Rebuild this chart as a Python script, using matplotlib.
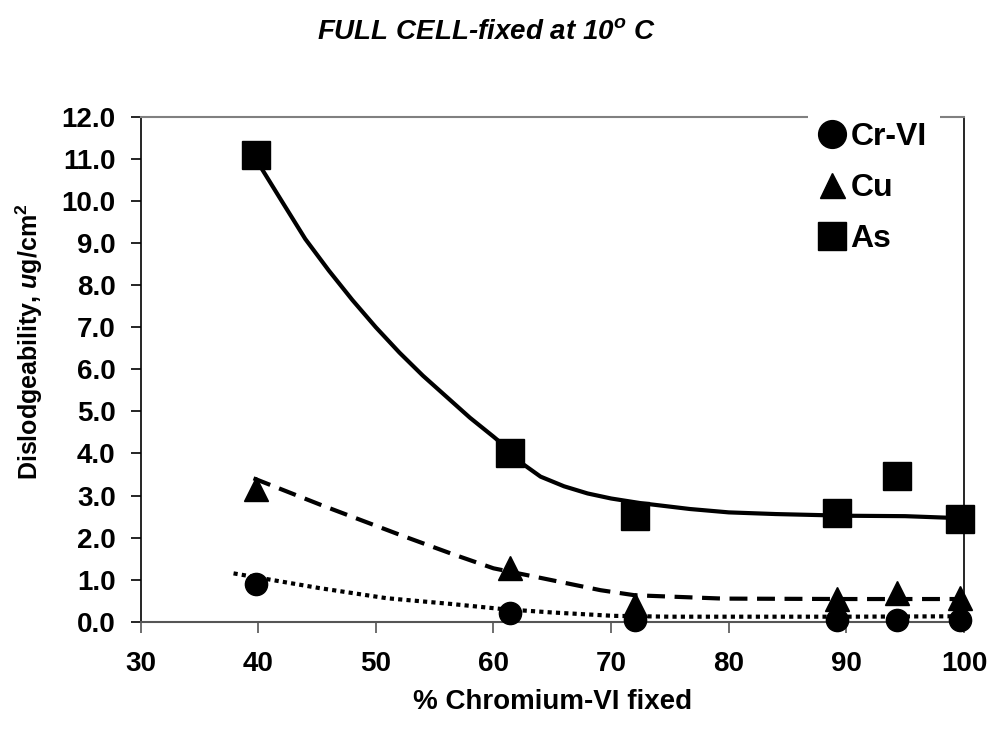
import matplotlib
matplotlib.use('Agg')
import matplotlib.pyplot as plt
from matplotlib.lines import Line2D

# measured points (% Cr-VI fixed vs dislodgeability, ug/cm2)
x_fixed = [39.8, 61.4, 72.0, 89.2, 94.3, 99.7]
cr_vi = [0.90, 0.20, 0.04, 0.03, 0.04, 0.03]
cu = [3.15, 1.27, 0.40, 0.55, 0.68, 0.56]
arsenic = [11.1, 4.0, 2.52, 2.59, 3.47, 2.45]

# smoothed trend lines
as_curve_x = [39.9, 40.3, 42.0, 44.0, 46.0, 48.0, 50.0, 52.0, 54.0, 56.0, 58.0, 60.0,
              61.5, 62.5, 64.0, 66.0, 68.0, 70.0, 72.5, 76.7, 80.0, 84.0, 90.0, 95.0, 99.9]
as_curve_y = [11.15, 10.77, 10.0, 9.1, 8.35, 7.65, 7.0, 6.4, 5.85, 5.35, 4.85, 4.4,
              4.05, 3.75, 3.45, 3.22, 3.05, 2.93, 2.82, 2.68, 2.60, 2.56, 2.52, 2.51, 2.46]
cu_curve_x = [39.6, 45.3, 52.1, 56.6, 60.0, 63.7, 69.1, 72.0, 79.5, 90.0, 100.0]
cu_curve_y = [3.41, 2.78, 2.06, 1.60, 1.27, 1.06, 0.75, 0.63, 0.55, 0.54, 0.54]
cr_curve_x = [37.9, 45.2, 50.9, 56.5, 60.8, 65.0, 70.2, 75.0, 80.0, 90.0, 100.0]
cr_curve_y = [1.15, 0.80, 0.56, 0.42, 0.30, 0.22, 0.14, 0.12, 0.12, 0.12, 0.13]

x_ticks = [30, 40, 50, 60, 70, 80, 90, 100]
y_ticks = list(range(0, 13))

plt.rcParams['font.family'] = ['Liberation Sans', 'DejaVu Sans']
plt.rcParams['font.weight'] = 'bold'
plt.rcParams['mathtext.fontset'] = 'custom'
plt.rcParams['mathtext.rm'] = 'Liberation Sans:bold'
plt.rcParams['mathtext.bf'] = 'Liberation Sans:bold'
plt.rcParams['mathtext.it'] = 'Liberation Sans:bold:italic'

fig = plt.figure(figsize=(9.93, 7.35), dpi=100)
ax = fig.add_axes([0.1416, 0.1541, 0.8292, 0.6867])

# trend lines
ax.plot(as_curve_x, as_curve_y, color='black', lw=3, solid_capstyle='butt',
        solid_joinstyle='round', zorder=2)
ax.plot(cu_curve_x, cu_curve_y, color='black', lw=3, linestyle=(0, (4.3, 2.3)),
        dash_capstyle='butt', zorder=2)
ax.plot(cr_curve_x, cr_curve_y, color='black', lw=3, linestyle=(0, (1, 1)),
        dash_capstyle='butt', zorder=2)

# markers
ax.plot(x_fixed, cr_vi, 'o', color='black', ms=16, ls='none', clip_on=False, zorder=3)
ax.plot(x_fixed, cu, '^', color='black', ms=17, ls='none', clip_on=False, zorder=3)
ax.plot(x_fixed, arsenic, 's', color='black', ms=20, ls='none', clip_on=False, zorder=3)

ax.set_xlim(30, 100)
ax.set_ylim(0, 12)
ax.set_xticks(x_ticks)
ax.set_yticks(y_ticks)
ax.set_yticklabels([f'{v:.1f}' for v in y_ticks])

ax.spines['top'].set_color('#808080')
ax.spines['top'].set_linewidth(1.5)
ax.spines['right'].set_color('black')
ax.spines['right'].set_linewidth(1.2)
ax.spines['left'].set_color('black')
ax.spines['left'].set_linewidth(1.2)
ax.spines['bottom'].set_color('#555555')
ax.spines['bottom'].set_linewidth(1.5)

ax.tick_params(axis='y', direction='out', length=7, width=1.2, color='black',
               labelsize=20, pad=11)
ax.tick_params(axis='x', direction='out', length=8, width=1.2, color='#555555',
               labelsize=20, pad=13)

ax.set_xlabel('% Chromium-VI fixed', fontsize=20, fontweight='bold', labelpad=9)
ax.set_ylabel('Dislodgeability, $u$g/cm$^2$', fontsize=18, fontweight='bold')
ax.yaxis.set_label_coords(-0.116, 0.555)

fig.text(0.49, 0.957, 'FULL CELL-fixed at 10$^o$ C', ha='center', va='center',
         fontsize=20, fontweight='bold', fontstyle='italic')

handles = [
    Line2D([], [], marker='o', color='black', ls='none', ms=20),
    Line2D([], [], marker='^', color='black', ls='none', ms=18),
    Line2D([], [], marker='s', color='black', ls='none', ms=20),
]
leg = ax.legend(handles, ['Cr-VI', 'Cu', 'As'], loc='upper left',
                bbox_to_anchor=(0.81, 1.016), borderaxespad=0, frameon=True,
                fancybox=False, edgecolor='none', facecolor='white', framealpha=1,
                prop={'size': 23, 'weight': 'bold'}, handlelength=0.7,
                handletextpad=0.25, labelspacing=0.66, borderpad=0.4)
leg.set_zorder(5)

fig.savefig('out.png', dpi=100)
